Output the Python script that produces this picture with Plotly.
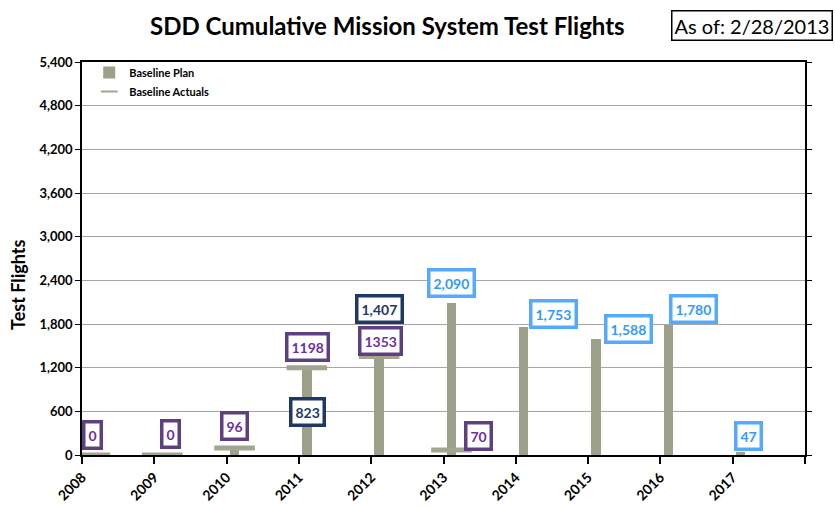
import plotly.graph_objects as go

# ---------------- data ----------------
years = [2008, 2009, 2010, 2011, 2012, 2013, 2014, 2015, 2016, 2017]
baseline_plan = [0, 0, 96, 1198, 1353, 2090, 1753, 1588, 1780, 47]
actual_years = [2008, 2009, 2010, 2011, 2012, 2013]
baseline_actuals = [0, 0, 96, 1198, 1353, 70]

actual_labels = ["0", "0", "96", "1198", "1353", "70"]
plan_label_years = [2013, 2014, 2015, 2016, 2017]
plan_label_values = [2090, 1753, 1588, 1780, 47]
note_years = [2011, 2012]
note_values = [823, 1407]

tick_years = [2008, 2009, 2010, 2011, 2012, 2013, 2014, 2015, 2016, 2017, 2018]
tick_labels = ["2008", "2009", "2010", "2011", "2012", "2013", "2014", "2015", "2016", "2017", ""]

# ---------------- styles ----------------
FONT = "Lato"
X_OFF = 0.11  # points are plotted a little into each year
BAR_COLOR = "#9da189"
CAP_COLOR = "#a2a690"
PURPLE_TXT, PURPLE_BRD = "#7030a0", "#5e4080"
NAVY = "#1f3864"
BLUE_TXT, BLUE_BRD = "#3399ff", "#55aaff"

PLOT_TOP, PLOT_BOTTOM, PLOT_LEFT, PLOT_W = 62, 455, 82, 723


def py2paper(py):
    return (PLOT_BOTTOM - py) / (PLOT_BOTTOM - PLOT_TOP)


def px2paper(px):
    return (px - PLOT_LEFT) / PLOT_W


actual_shift = [(3, 20), (8, 21), (0, 22), (1, 21), (1, 16), (27, 14)]
plan_shift = [(0, 20), (30, 13), (32, 10), (25, 16), (8, 16)]
note_shift = [(1, -17), (0, 44)]

fig = go.Figure()
fig.add_trace(go.Bar(
    x=[y + X_OFF for y in years], y=baseline_plan, name="Baseline Plan",
    marker=dict(color=BAR_COLOR, line=dict(width=0)), width=0.13,
))
fig.add_trace(go.Scatter(
    x=[y + X_OFF for y in actual_years], y=baseline_actuals, name="Baseline Actuals",
    mode="markers",
    marker=dict(symbol="line-ew", size=29, color=CAP_COLOR,
                line=dict(width=5, color=CAP_COLOR)),
))

annotations = []


def box(x, y, text, txt_col, brd_col, shift):
    annotations.append(dict(
        x=x + X_OFF, y=y, xref="x", yref="y", text=text, showarrow=False,
        xanchor="center", yanchor="middle",
        xshift=shift[0], yshift=shift[1],
        font=dict(family=FONT, size=14, color=txt_col, weight="bold"),
        bgcolor="white", bordercolor=brd_col, borderwidth=3.5, borderpad=3,
    ))


for yr, v, t, s in zip(actual_years, baseline_actuals, actual_labels, actual_shift):
    box(yr, v, t, PURPLE_TXT, PURPLE_BRD, s)
for yr, v, s in zip(plan_label_years, plan_label_values, plan_shift):
    box(yr, v, f"{v:,}", BLUE_TXT, BLUE_BRD, s)
for yr, v, s in zip(note_years, note_values, note_shift):
    box(yr, v, f"{v:,}", NAVY, NAVY, s)

annotations.append(dict(
    x=px2paper(387), y=py2paper(25), xref="paper", yref="paper",
    xanchor="center", yanchor="middle",
    text="SDD Cumulative Mission System Test Flights", showarrow=False,
    font=dict(family=FONT, size=24, color="black", weight="bold"),
))
annotations.append(dict(
    x=px2paper(752), y=py2paper(25), xref="paper", yref="paper",
    xanchor="center", yanchor="middle",
    text="As of: 2/28/2013", showarrow=False,
    font=dict(family=FONT, size=20, color="black"),
    bgcolor="white", bordercolor="black", borderwidth=1.5, borderpad=2,
))
annotations.append(dict(
    x=px2paper(18), y=py2paper(285), xref="paper", yref="paper",
    xanchor="center", yanchor="middle",
    text="Test Flights", textangle=-90, showarrow=False,
    font=dict(family=FONT, size=18, color="black", weight="bold"),
))

fig.update_layout(
    width=835, height=507,
    margin=dict(l=82, r=30, t=62, b=52, autoexpand=False),
    paper_bgcolor="white", plot_bgcolor="white",
    showlegend=True,
    legend=dict(x=0.01, y=1.01, xanchor="left", yanchor="top",
                bgcolor="rgba(0,0,0,0)", itemsizing="constant",
                font=dict(family=FONT, size=11, color="black", weight="bold"),
                tracegroupgap=0),
    annotations=annotations,
    bargap=0,
)
fig.update_xaxes(
    range=[2008, 2018], tickvals=tick_years, ticktext=tick_labels,
    tickangle=-45, ticks="outside", ticklen=7, tickwidth=1.5, tickcolor="black",
    showline=True, linecolor="black", linewidth=1.5, mirror=True,
    showgrid=False, zeroline=False, automargin=False,
    tickfont=dict(family=FONT, size=14, color="black", weight="bold"),
)
fig.update_yaxes(
    range=[0, 5400], dtick=600, tickformat=",",
    ticks="outside", ticklen=5, tickwidth=1, tickcolor="black",
    showline=True, linecolor="black", linewidth=1.5, mirror="ticks",
    showgrid=True, gridcolor="#a6a6a6", gridwidth=1.3, zeroline=False,
    automargin=False,
    tickfont=dict(family=FONT, size=13, color="black", weight="bold"),
)

fig.write_html(
    "out.html",
    config={"displayModeBar": False},
    post_script="document.body.style.margin='0';document.body.style.overflow='hidden';",
)
